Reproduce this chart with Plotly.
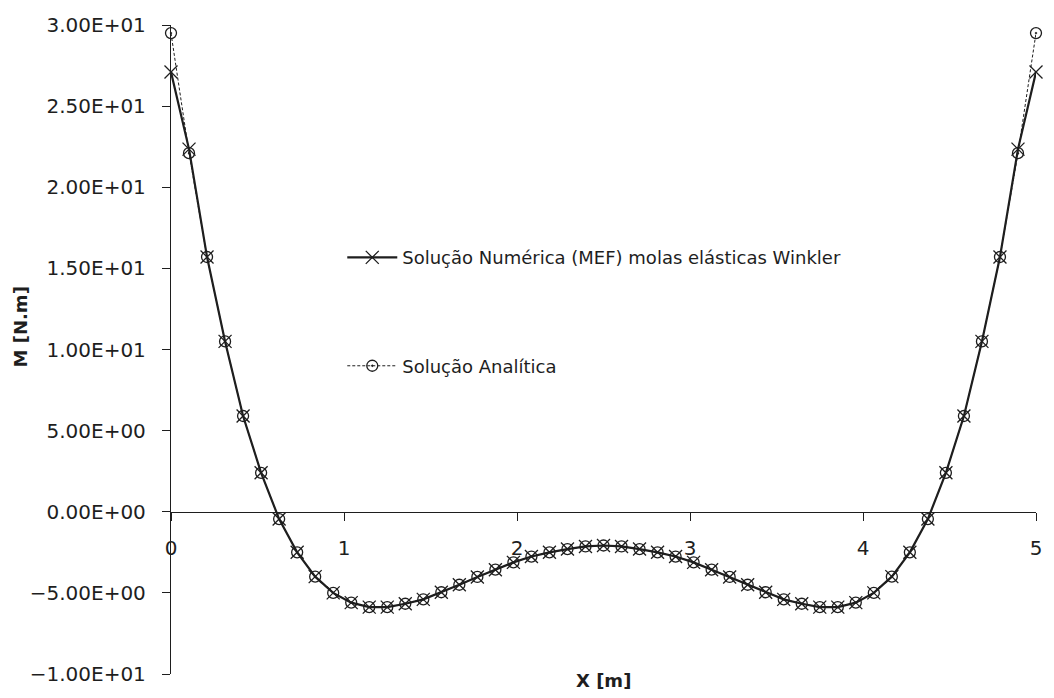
import plotly.graph_objects as go

# Positions along the beam (m): 48 elements over 5 m
x_m = [i * 5 / 48 for i in range(49)]

# Bending moment M (N.m) - FEM with Winkler elastic springs
m_numerica = [
    27.1, 22.35, 15.7, 10.5, 5.9, 2.4, -0.45, -2.5, -4.0, -5.0,
    -5.6, -5.88, -5.88, -5.67, -5.4, -4.96, -4.5, -4.02, -3.57, -3.12,
    -2.76, -2.5, -2.3, -2.14, -2.08, -2.14, -2.3, -2.5, -2.76, -3.12,
    -3.57, -4.02, -4.5, -4.96, -5.4, -5.67, -5.88, -5.88, -5.6, -5.0,
    -4.0, -2.5, -0.45, 2.4, 5.9, 10.5, 15.7, 22.35, 27.1,
]

# Bending moment M (N.m) - analytical solution
m_analitica = [
    29.5, 22.1, 15.7, 10.5, 5.9, 2.4, -0.45, -2.5, -4.0, -5.0,
    -5.6, -5.88, -5.88, -5.67, -5.4, -4.96, -4.5, -4.02, -3.57, -3.12,
    -2.76, -2.5, -2.3, -2.14, -2.08, -2.14, -2.3, -2.5, -2.76, -3.12,
    -3.57, -4.02, -4.5, -4.96, -5.4, -5.67, -5.88, -5.88, -5.6, -5.0,
    -4.0, -2.5, -0.45, 2.4, 5.9, 10.5, 15.7, 22.1, 29.5,
]

y_tick_vals = [-10, -5, 0, 5, 10, 15, 20, 25, 30]
y_tick_text = ["\u22121.00E+01", "\u22125.00E+00", "0.00E+00", "5.00E+00",
               "1.00E+01", "1.50E+01", "2.00E+01", "2.50E+01", "3.00E+01"]
x_tick_vals = [0, 1, 2, 3, 4, 5]

x_range = [0, 5]
y_range = [-10, 30]

INK = "#1e1e1e"
FONT = "DejaVu Sans"

fig = go.Figure()

fig.add_trace(go.Scatter(
    x=x_m, y=m_numerica, mode="lines+markers",
    name="Solução Numérica (MEF) molas elásticas Winkler",
    legendgroup="num",
    line=dict(color=INK, width=2.2),
    marker=dict(symbol="x-thin-open", size=13, color=INK,
                line=dict(color=INK, width=1.3)),
    cliponaxis=False,
))

fig.add_trace(go.Scatter(
    x=x_m, y=m_analitica, mode="lines+markers",
    name="Solução Analítica",
    legendgroup="ana",
    line=dict(color=INK, width=1, dash="3px,2px"),
    marker=dict(symbol="circle-open-dot", size=11, color=INK,
                line=dict(color=INK, width=1.3)),
    cliponaxis=False,
))

# x axis drawn where y = 0
x_axis_pos = (0 - y_range[0]) / (y_range[1] - y_range[0])

fig.update_layout(
    width=1054, height=698,
    margin=dict(l=171, r=12, t=25, b=19),
    paper_bgcolor="white", plot_bgcolor="white",
    font=dict(family=FONT, color=INK, size=20),
    showlegend=True,
    legend=dict(
        x=0.198, y=0.67, xanchor="left", yanchor="top",
        bgcolor="rgba(0,0,0,0)",
        font=dict(family=FONT, size=18, color=INK),
        tracegroupgap=82, itemwidth=50,
    ),
    xaxis=dict(
        range=x_range, tickvals=x_tick_vals,
        showgrid=False, zeroline=False,
        showline=True, linecolor=INK, linewidth=1.3,
        ticks="outside", ticklen=8, tickcolor=INK, tickwidth=1.3,
        anchor="free", position=x_axis_pos,
        ticklabelstandoff=10,
        tickfont=dict(family=FONT, size=20, color=INK),
    ),
    yaxis=dict(
        range=y_range, tickvals=y_tick_vals, ticktext=y_tick_text,
        showgrid=False, zeroline=False,
        showline=True, linecolor=INK, linewidth=1.3,
        ticks="outside", ticklen=8, tickcolor=INK, tickwidth=1.3,
        ticklabelstandoff=12,
        tickfont=dict(family=FONT, size=20, color=INK),
    ),
    annotations=[
        dict(text="<b>M [N.m]</b>", textangle=-90, xref="paper", yref="paper",
             x=0, xshift=-151, y=0.534, xanchor="center", yanchor="middle",
             showarrow=False, font=dict(family=FONT, size=18, color=INK)),
        dict(text="<b>X [m]</b>", xref="paper", yref="paper",
             x=0.5, y=-0.003, yshift=-5, xanchor="center", yanchor="middle",
             showarrow=False, font=dict(family=FONT, size=18, color=INK)),
    ],
)

fig.write_html("out.html")
